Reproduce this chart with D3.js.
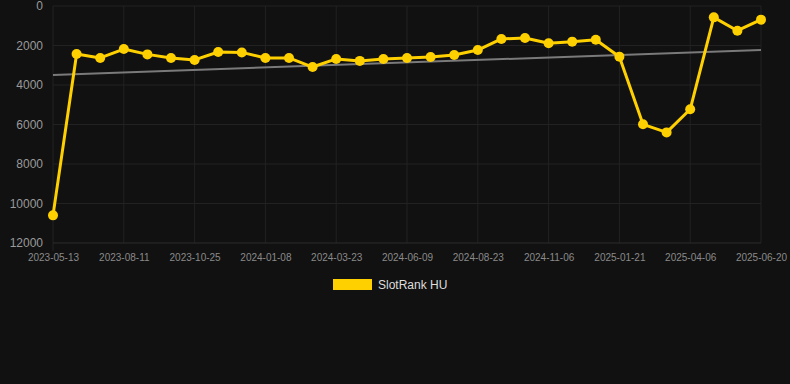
<!DOCTYPE html>
<html><head><meta charset="utf-8">
<script src="https://cdn.jsdelivr.net/npm/d3@7"></script>
<style>
html,body{margin:0;padding:0;background:#111111;}
svg{display:block;font-family:"Liberation Sans",Arial,sans-serif;}
</style></head>
<body>
<svg id="c" width="790" height="384"></svg>
<script>
const categories = ["2023-05-13","2023-06-12","2023-07-12","2023-08-11","2023-09-05","2023-09-30","2023-10-25","2023-11-19","2023-12-14","2024-01-08","2024-02-02","2024-02-27","2024-03-23","2024-04-18","2024-05-14","2024-06-09","2024-07-04","2024-07-29","2024-08-23","2024-09-17","2024-10-12","2024-11-06","2024-12-01","2024-12-26","2025-01-21","2025-02-15","2025-03-12","2025-04-06","2025-05-01","2025-05-26","2025-06-20"];
const rankValues = [10600,2430,2630,2180,2450,2630,2730,2330,2350,2630,2630,3090,2680,2780,2680,2630,2580,2480,2230,1670,1620,1890,1805,1705,2565,5990,6400,5230,575,1250,690];
const trendValues = [3490,2230]; // at first and last category
const yTicks = [0,2000,4000,6000,8000,10000,12000];
const seriesName = "SlotRank HU";

const svg = d3.select("#c");
const mLeft = 53, mRight = 761, mTop = 6, mBottom = 243;

const x = d3.scalePoint().domain(categories).range([mLeft, mRight]);
const y = d3.scaleLinear().domain([0,12000]).range([mTop, mBottom]);

// grid
const tickCats = categories.filter((d,i)=>i%3===0);
svg.append("g").selectAll("line").data(tickCats).join("line")
  .attr("x1",d=>x(d)).attr("x2",d=>x(d)).attr("y1",mTop).attr("y2",(d,i)=>i===0?mBottom+8:mBottom)
  .attr("stroke","#222").attr("stroke-width",1);
svg.append("g").selectAll("line").data(yTicks).join("line")
  .attr("x1",mLeft).attr("x2",mRight).attr("y1",d=>y(d)).attr("y2",d=>y(d))
  .attr("stroke",d=>d===12000?"#2c2c2c":"#222").attr("stroke-width",1);

// y axis labels
const yAxis = d3.axisLeft(y).tickValues(yTicks).tickSize(0).tickPadding(10).tickFormat(d3.format("d"));
const ya = svg.append("g").attr("transform",`translate(${mLeft},0)`).call(yAxis);
ya.select(".domain").remove();
ya.selectAll("text").attr("fill","#9a9a9a").style("font-size","12px");

// x axis labels
const xAxis = d3.axisBottom(x).tickValues(tickCats).tickSize(0).tickPadding(11);
const xa = svg.append("g").attr("transform",`translate(0,${mBottom})`).call(xAxis);
xa.select(".domain").remove();
xa.selectAll("text").attr("fill","#8a8a8a").style("font-size","10px");

// trend line
svg.append("line")
  .attr("x1",x(categories[0])).attr("y1",y(trendValues[0]))
  .attr("x2",x(categories[categories.length-1])).attr("y2",y(trendValues[1]))
  .attr("stroke","#7a7a7a").attr("stroke-width",2);

// series line
const pts = categories.map((c,i)=>({c,v:rankValues[i]}));
svg.append("path").datum(pts)
  .attr("d",d3.line().x(d=>x(d.c)).y(d=>y(d.v)))
  .attr("fill","none").attr("stroke","#FFD000").attr("stroke-width",3).attr("stroke-linejoin","round");
svg.append("g").selectAll("circle").data(pts).join("circle")
  .attr("cx",d=>x(d.c)).attr("cy",d=>y(d.v)).attr("r",5)
  .attr("fill","#FFD000");

// legend
const lg = svg.append("g");
lg.append("rect").attr("x",333).attr("y",279).attr("width",39).attr("height",11).attr("fill","#FFD000");
lg.append("text").attr("x",378).attr("y",289).text(seriesName)
  .attr("fill","#dddddd").style("font-size","12px");
</script>
</body></html>
